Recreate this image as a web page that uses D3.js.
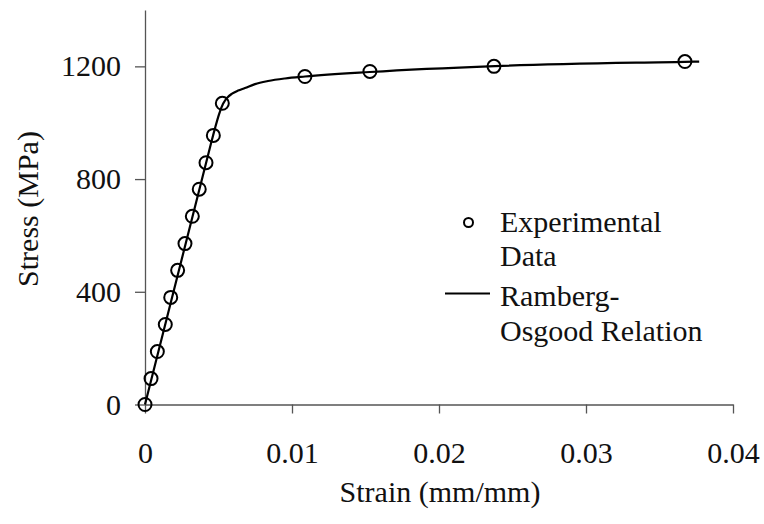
<!DOCTYPE html>
<html>
<head>
<meta charset="utf-8">
<script src="https://cdn.jsdelivr.net/npm/d3@7"></script>
<style>
html, body { margin: 0; padding: 0; background: #fff; }
#chart, #chart text { font-family: "Liberation Serif", "Times New Roman", serif !important; }
</style>
</head>
<body>
<svg id="chart" width="764" height="524" font-family="Liberation Serif"></svg>
<script>
// Experimental data (strain mm/mm, stress MPa)
const expStrain = [0, 0.00041, 0.00084, 0.00138, 0.00175, 0.00222, 0.00272, 0.00322, 0.00369, 0.00415, 0.00465, 0.00526, 0.01088, 0.0153, 0.02374, 0.03673];
const expStress = [0, 92, 188, 284, 380, 476, 571, 668, 764, 858, 955, 1069, 1164, 1182, 1200, 1217];

// Ramberg-Osgood curve
const roStrain = [0, 0.00442, 0.00476, 0.00503, 0.00531, 0.00558, 0.00592, 0.00633, 0.0068, 0.00748, 0.00837, 0.00952, 0.01088, 0.0153, 0.0238, 0.0367, 0.0377];
const roStress = [0, 912, 980, 1029, 1067, 1088, 1103, 1114, 1123, 1137, 1148, 1157, 1164, 1180, 1201, 1216, 1217];

const xTicks = [0, 0.01, 0.02, 0.03, 0.04];
const xTickLabels = ["0", "0.01", "0.02", "0.03", "0.04"];
const yTicks = [0, 400, 800, 1200];
const yTickLabels = ["0", "400", "800", "1200"];

const xTitle = "Strain (mm/mm)";
const yTitle = "Stress (MPa)";
const legendLabels = [["Experimental", "Data"], ["Ramberg-", "Osgood Relation"]];

const FONT = "Liberation Serif";
const TXT = "#111";

const svg = d3.select("#chart");
const x = d3.scaleLinear().domain([0, 0.04]).range([145, 733]);
const y = d3.scaleLinear().domain([0, 1400]).range([404.5, 10]);

const axisColor = "#555";

function styleText(sel) {
  return sel.attr("fill", TXT).attr("font-family", FONT).attr("font-size", 30)
    .style("font-family", `"${FONT}"`);
}

// X axis
const xAxis = d3.axisBottom(x).tickValues(xTicks)
  .tickFormat((d, i) => xTickLabels[i]).tickSizeOuter(0).tickSizeInner(9).tickPadding(28);
const gx = svg.append("g").attr("transform", `translate(0,${y(0)})`).call(xAxis)
  .attr("font-family", FONT).attr("font-size", 30);
gx.select(".domain").attr("stroke", axisColor).attr("stroke-width", 1.3);
gx.selectAll(".tick line").attr("stroke", axisColor).attr("stroke-width", 1.3);
styleText(gx.selectAll(".tick text")).attr("dy", "0.71em");

// Y axis
const yAxis = d3.axisLeft(y).tickValues(yTicks)
  .tickFormat((d, i) => yTickLabels[i]).tickSizeOuter(0).tickSizeInner(10).tickPadding(14);
const gy = svg.append("g").attr("transform", `translate(${x(0)},0)`).call(yAxis)
  .attr("font-family", FONT).attr("font-size", 30);
gy.select(".domain").attr("stroke", axisColor).attr("stroke-width", 1.3);
gy.selectAll(".tick line").attr("stroke", axisColor).attr("stroke-width", 1.3);
styleText(gy.selectAll(".tick text"));

// Titles
styleText(svg.append("text")).attr("x", 440).attr("y", 502).attr("text-anchor", "middle").text(xTitle);
styleText(svg.append("text")).attr("transform", "translate(38,209) rotate(-90)")
  .attr("text-anchor", "middle").text(yTitle);

// Ramberg-Osgood line
const roData = roStrain.map((s, i) => [s, roStress[i]]);
const line = d3.line().x(d => x(d[0])).y(d => y(d[1])).curve(d3.curveMonotoneX);
svg.append("path").datum(roData).attr("d", line)
  .attr("fill", "none").attr("stroke", "#000").attr("stroke-width", 2.2);

// Experimental points
const expData = expStrain.map((s, i) => [s, expStress[i]]);
svg.append("g").selectAll("circle").data(expData).join("circle")
  .attr("cx", d => x(d[0])).attr("cy", d => y(d[1])).attr("r", 6.5)
  .attr("fill", "none").attr("stroke", "#000").attr("stroke-width", 2);

// Legend
const lg = svg.append("g");
lg.append("circle").attr("cx", 468.5).attr("cy", 222.5).attr("r", 4.5)
  .attr("fill", "none").attr("stroke", "#000").attr("stroke-width", 2);
styleText(lg.append("text")).attr("x", 500).attr("y", 232).text(legendLabels[0][0]);
styleText(lg.append("text")).attr("x", 500).attr("y", 266).text(legendLabels[0][1]);
lg.append("line").attr("x1", 445).attr("x2", 490).attr("y1", 293.5).attr("y2", 293.5)
  .attr("stroke", "#000").attr("stroke-width", 2.2);
styleText(lg.append("text")).attr("x", 500).attr("y", 306).text(legendLabels[1][0]);
styleText(lg.append("text")).attr("x", 500).attr("y", 341).text(legendLabels[1][1]);
</script>
</body>
</html>
